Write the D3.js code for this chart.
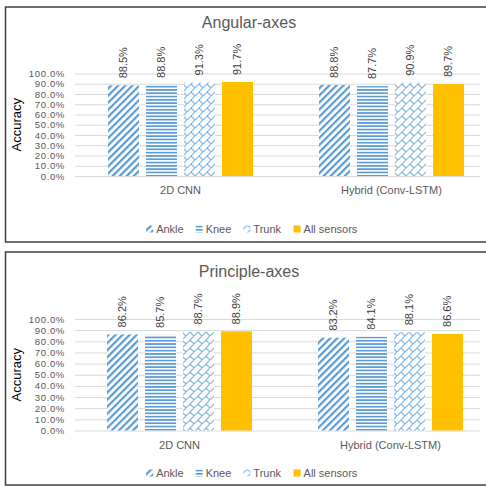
<!DOCTYPE html>
<html>
<head>
<meta charset="utf-8">
<script src="https://cdn.jsdelivr.net/npm/d3@7"></script>
<style>
  html, body { margin: 0; padding: 0; background: #fff; }
  svg { display: block; font-family: "Liberation Sans", Arial, sans-serif; }
</style>
</head>
<body>
<svg id="chart" width="486" height="487"></svg>
<script>
// ---- data ----
const categories = ["2D CNN", "Hybrid (Conv-LSTM)"];
const sensors = ["Ankle", "Knee", "Trunk", "All sensors"];
const angularValues = [
  [88.5, 88.8, 91.3, 91.7],
  [88.8, 87.7, 90.9, 89.7]
];
const principleValues = [
  [86.2, 85.7, 88.7, 88.9],
  [83.2, 84.1, 88.1, 86.6]
];
const tickValues = [0, 10, 20, 30, 40, 50, 60, 70, 80, 90, 100];
const panelTitles = ["Angular-axes", "Principle-axes"];
const axisTitle = "Accuracy";

// ---- layout of the two panels ----
const panels = [
  { title: panelTitles[0], values: angularValues, top: 7, bottom: 242,
    titleY: 22, yZero: 176, yFull: 73.5, catY: 190, legendY: 229, xShift: 0 },
  { title: panelTitles[1], values: principleValues, top: 252, bottom: 485,
    titleY: 271, yZero: 430.5, yFull: 319, catY: 445, legendY: 473, xShift: -1 }
];

const svg = d3.select("#chart");
const blue = "#5b9bd5";
const lightBlue = "#82b4e3";
const gold = "#ffc000";
const grey = "#595959";

// ---- fill patterns ----
const defs = svg.append("defs");
const pDiag = defs.append("pattern").attr("id", "pat-ankle")
  .attr("patternUnits", "userSpaceOnUse").attr("width", 5).attr("height", 5)
  .attr("patternTransform", "rotate(45)");
pDiag.append("rect").attr("width", 5).attr("height", 5).attr("fill", "#fff");
pDiag.append("rect").attr("x", 0).attr("width", 2.2).attr("height", 5).attr("fill", blue);

const pHor = defs.append("pattern").attr("id", "pat-knee")
  .attr("patternUnits", "userSpaceOnUse").attr("width", 6).attr("height", 3.3);
pHor.append("rect").attr("width", 6).attr("height", 3.3).attr("fill", "#fff");
pHor.append("rect").attr("y", 0).attr("width", 6).attr("height", 1.7).attr("fill", blue);

const pShingle = defs.append("pattern").attr("id", "pat-trunk")
  .attr("patternUnits", "userSpaceOnUse").attr("width", 8).attr("height", 8);
pShingle.append("rect").attr("width", 8).attr("height", 8).attr("fill", "#fff");
pShingle.append("path").attr("d", "M0,8 L8,0 M4,4 L8,8 M-4,4 L0,8")
  .attr("stroke", lightBlue).attr("stroke-width", 1.2).attr("fill", "none");

const fills = ["url(#pat-ankle)", "url(#pat-knee)", "url(#pat-trunk)", gold];

// ---- draw each panel ----
panels.forEach(p => {
  const g = svg.append("g");

  // frame
  g.append("rect")
    .attr("x", 5.5).attr("y", p.top)
    .attr("width", 520).attr("height", p.bottom - p.top)
    .attr("fill", "#fff").attr("stroke", "#3f3f3f").attr("stroke-width", 1.5);

  // title
  g.append("text")
    .attr("x", 249).attr("y", p.titleY).attr("dy", "0.35em")
    .attr("text-anchor", "middle").attr("font-size", 16).attr("fill", grey)
    .text(p.title);

  const plotLeft = 75, gridRight = 480;
  const x0 = d3.scaleBand().domain(categories).range([plotLeft + p.xShift, 497 + p.xShift]);
  const x1 = d3.scaleBand().domain(sensors)
    .range([33, 33 + 145]).paddingInner(0.184).paddingOuter(0);
  const y = d3.scaleLinear().domain([0, 100]).range([p.yZero, p.yFull]);

  // gridlines + tick labels
  const axis = d3.axisLeft(y)
    .tickValues(tickValues)
    .tickFormat(d => d3.format(".1%")(d / 100))
    .tickSizeInner(-(gridRight - plotLeft))
    .tickSizeOuter(0)
    .tickPadding(10);
  const ag = g.append("g").attr("transform", `translate(${plotLeft},0)`).call(axis);
  ag.select(".domain").remove();
  ag.selectAll(".tick line").attr("stroke", "#d9d9d9").attr("stroke-width", 1);
  ag.selectAll(".tick text").attr("fill", grey).attr("font-size", 9.6)
    .attr("letter-spacing", 0.6)
    .attr("font-family", "Liberation Sans, Arial, sans-serif");

  // axis title
  g.append("text")
    .attr("transform", `translate(16,${(p.yZero + p.yFull) / 2}) rotate(-90)`)
    .attr("text-anchor", "middle").attr("dy", "0.35em")
    .attr("font-size", 13).attr("fill", "#000")
    .text(axisTitle);

  // bars and value labels
  categories.forEach((cat, ci) => {
    const cg = g.append("g").attr("transform", `translate(${x0(cat)},0)`);
    sensors.forEach((s, si) => {
      const v = p.values[ci][si];
      cg.append("rect")
        .attr("x", x1(s)).attr("width", x1.bandwidth())
        .attr("y", y(v)).attr("height", y(0) - y(v))
        .attr("fill", fills[si]);
      const cx = x1(s) + x1.bandwidth() / 2;
      cg.append("text")
        .attr("transform", `translate(${cx},${y(v) - 7}) rotate(-90)`)
        .attr("dy", "0.35em").attr("text-anchor", "start")
        .attr("font-size", 11).attr("fill", "#404040")
        .text(d3.format(".1f")(v) + "%");
    });
    // category label
    g.append("text")
      .attr("x", x0(cat) + 33 + 145 / 2).attr("y", p.catY).attr("dy", "0.35em")
      .attr("text-anchor", "middle").attr("font-size", 11).attr("fill", grey)
      .text(cat);
  });

  // legend
  const lg = g.append("g");
  const items = lg.selectAll("g.item").data(sensors).join("g").attr("class", "item");
  items.append("rect").attr("width", 7).attr("height", 7).attr("y", -3.5)
    .attr("fill", (d, i) => fills[i]);
  items.append("text").attr("x", 10).attr("dy", "0.35em")
    .attr("font-size", 11).attr("fill", grey).text(d => d);
  let cursor = 0;
  const gap = 12;
  items.each(function () {
    const w = this.getBBox().width;
    d3.select(this).attr("transform", `translate(${cursor},0)`);
    cursor += w + gap;
  });
  const total = cursor - gap;
  lg.attr("transform", `translate(${252 - total / 2},${p.legendY})`);
});
</script>
</body>
</html>
